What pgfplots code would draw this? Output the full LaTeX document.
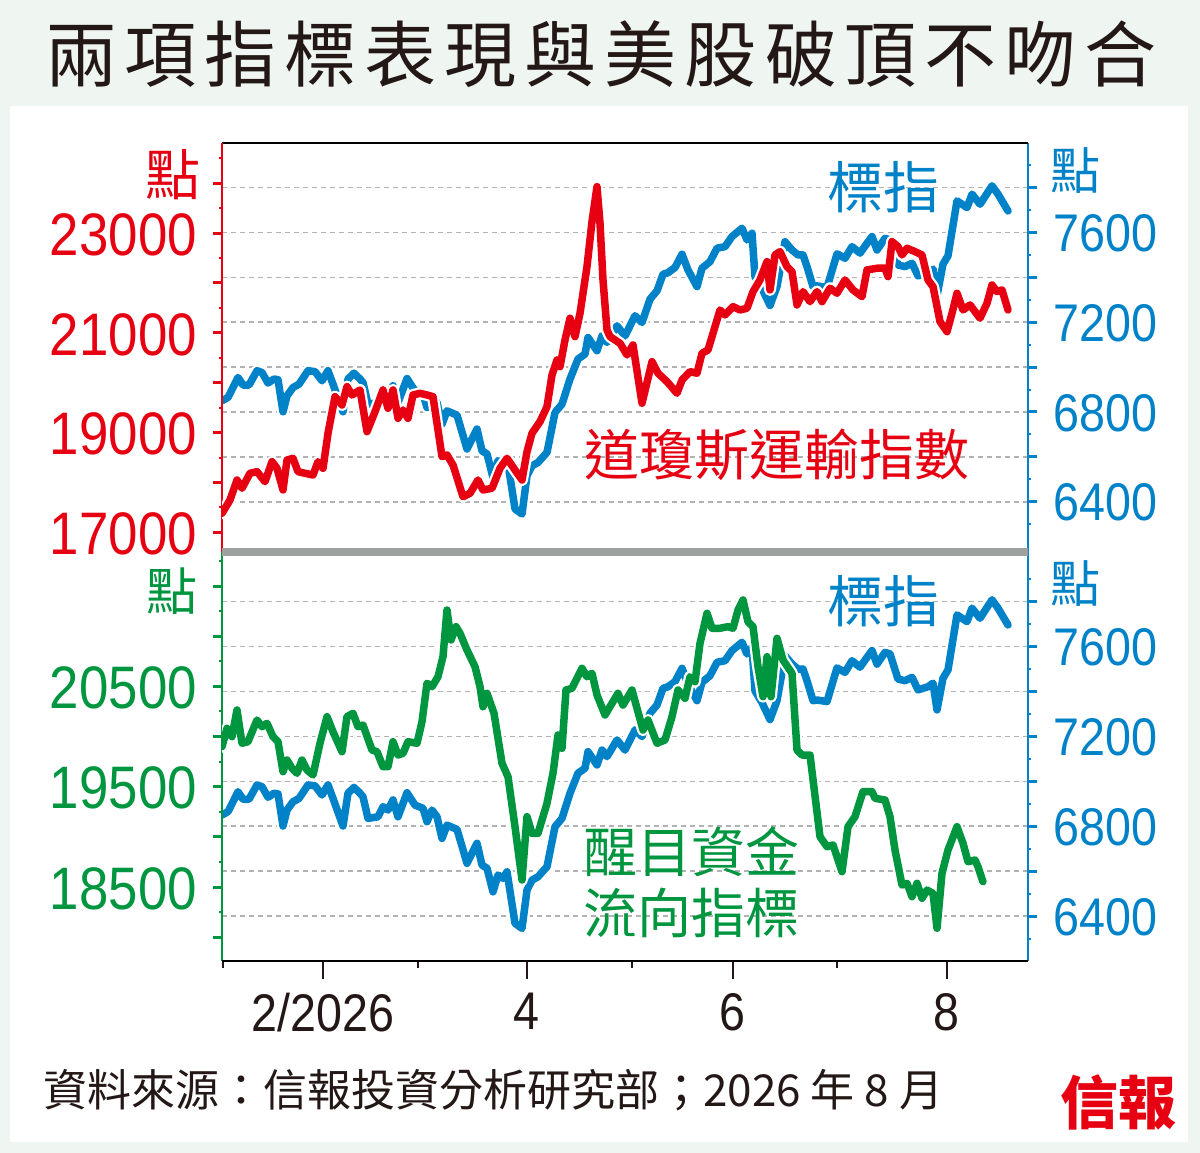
\documentclass[border=0pt]{standalone}
\usepackage{fontspec}
\setmainfont{Liberation Sans}[FakeStretch=0.88]
\newfontfamily\cjk{Noto Sans CJK TC}
\usepackage{pgfplots}
\usepackage{pgfplotstable}
\pgfplotsset{compat=1.18}
\definecolor{cred}{RGB}{230,0,18}
\definecolor{cblue}{RGB}{0,130,200}
\definecolor{cgreen}{RGB}{0,150,64}
\definecolor{bgcol}{RGB}{239,245,240}
\definecolor{ink}{RGB}{35,24,21}
\definecolor{gridgray}{RGB}{178,178,178}
\definecolor{sepgray}{RGB}{159,160,160}

\pgfplotstableread{
x y
222 6850
228 6865
238 6954
243 6920
249 6920
257 6984
262 6976
268 6929
274 6947
278 6944
283 6801
287 6872
293 6909
299 6924
308 6984
315 6980
322 6939
328 6984
333 6924
343 6801
348 6947
354 6973
360 6947
363 6931
368 6835
378 6842
383 6887
388 6872
393 6917
398 6842
407 6949
415 6894
423 6880
427 6820
432 6872
437 6842
442 6746
447 6805
457 6786
467 6635
477 6724
482 6627
487 6613
493 6508
498 6583
503 6568
507 6597
515 6368
522 6345
527 6516
532 6560
538 6575
547 6620
555 6798
562 6835
570 6947
578 7036
585 7058
588 7132
597 7073
602 7139
607 7110
617 7184
625 7139
635 7229
642 7199
650 7303
657 7340
663 7414
668 7421
675 7444
682 7503
688 7433
697 7359
702 7441
710 7470
717 7530
725 7537
732 7582
742 7619
747 7567
752 7597
755 7403
762 7350
770 7275
777 7359
785 7559
792 7522
798 7500
803 7500
807 7448
813 7359
817 7362
827 7355
837 7505
845 7485
852 7537
860 7508
867 7552
872 7582
877 7522
885 7574
890 7567
898 7455
905 7448
912 7463
918 7407
928 7421
933 7437
937 7318
943 7459
948 7496
957 7741
967 7711
972 7771
980 7726
992 7808
998 7771
1008 7696
}\bluetab

\pgfplotstableread{
x y
222 17381
230 17648
237 18049
242 17883
250 18184
257 18216
265 18015
272 18416
277 18284
283 17849
287 18450
293 18484
298 18216
305 18184
313 18149
318 18416
323 18284
328 18986
335 19720
342 19554
347 19921
352 19754
360 19855
367 19018
375 19419
383 19855
388 19487
393 19855
398 19287
403 19453
408 19287
413 19754
420 19788
427 19754
433 19720
442 18517
447 18551
453 18350
463 17714
470 17782
478 18049
483 17849
492 17883
500 18284
507 18484
515 18250
522 18049
527 18617
532 18986
540 19219
547 19520
552 20155
557 20456
560 20322
565 20858
570 21293
575 20924
580 21393
587 22328
592 23231
597 23933
600 23199
603 22061
607 21058
610 20924
620 20791
627 20557
633 20757
642 19588
652 20422
658 20190
667 20021
677 19788
682 20055
690 20222
697 20190
702 20591
708 20657
715 21124
720 21459
725 21359
733 21526
740 21459
747 21493
753 21827
760 22061
767 22428
770 21861
775 22563
780 22629
787 22328
792 22228
797 21560
803 21827
810 21626
817 21827
822 21626
830 21895
837 21794
845 22061
853 21861
862 21726
867 22262
877 22296
885 22296
888 22128
892 22830
898 22729
902 22563
907 22697
915 22629
922 22563
928 22061
933 21927
940 21225
947 21024
952 21393
957 21794
963 21459
970 21560
980 21293
987 21594
992 21961
997 21827
1002 21861
1008 21459
}\redtab

\pgfplotstableread{
x y
222 19899
227 20082
232 19999
237 20265
242 19933
248 19949
257 20165
262 20098
267 20132
273 19999
278 19949
283 19650
287 19766
292 19684
297 19634
302 19766
307 19667
313 19617
320 19933
327 20198
333 20048
342 19849
347 20198
353 20232
358 20098
363 20115
372 19866
377 19849
383 19700
388 19700
393 19949
398 19816
403 19833
408 19949
417 19933
422 20148
427 20531
432 20497
438 20596
443 20796
447 21261
451 20962
456 21095
460 21029
467 20862
475 20696
480 20497
483 20297
487 20431
494 20232
502 19734
508 19600
515 19102
522 18571
527 19202
532 19036
538 19036
547 19335
553 19634
558 20016
562 19883
566 20464
572 20481
582 20680
587 20596
592 20630
597 20414
605 20215
612 20331
618 20431
623 20314
632 20464
637 20282
643 20065
648 20165
657 19933
665 19966
672 20198
678 20464
685 20381
690 20596
695 20547
700 20929
707 21228
712 21079
720 21079
728 21095
733 21079
738 21261
743 21361
748 21144
753 21095
758 20696
763 20397
767 20796
771 20397
777 20979
783 20763
792 20630
797 19866
802 19816
810 19816
820 19002
827 18903
833 18920
842 18654
848 19102
855 19202
863 19451
872 19451
875 19385
885 19368
890 19202
895 18870
902 18521
907 18538
912 18405
917 18538
922 18389
927 18471
933 18438
937 18090
942 18638
948 18870
957 19102
963 18937
968 18753
975 18770
978 18703
983 18554
}\greentab

\pgfplotsset{
  panel/.style={scale only axis, width=806bp, height=409bp, xmin=222, xmax=1028, anchor=south west,
    scaled y ticks=false, scaled x ticks=false},
  halo/.style={white, line width=12bp, line join=round, line cap=round},
  ser/.style={#1, line width=7.5bp, line join=round, line cap=round},
  rightax/.style={
    axis x line=none, axis y line*=right,
    y axis line style={-, cblue, line width=2.2bp},
    ytick={6400,6600,...,7800}, yticklabels={6400,,6800,,7200,,7600,},
    minor ytick={6300,6500,...,7900},
    tick align=outside, major tick length=9bp, minor tick length=3bp,
    major tick style={cblue, line width=3bp}, minor tick style={cblue, line width=2bp},
    ymajorgrids, major grid style={gridgray, line width=1.6bp, dash pattern=on 5bp off 4bp},
    yticklabel style={text=cblue, font=\fontsize{53bp}{53bp}\selectfont, anchor=west, inner sep=0pt, xshift=16bp, yshift=-1bp},
  },
  leftax/.style={
    axis y line*=left,
    y axis line style={-, #1, line width=2.2bp},
    tick align=outside, major tick length=9bp, minor tick length=3bp,
    major tick style={#1, line width=3bp}, minor tick style={#1, line width=2bp},
    yticklabel style={text=#1, font=\fontsize{60bp}{60bp}\selectfont, anchor=east, inner sep=0pt, xshift=-16bp, yshift=-1.5bp},
  },
}

\begin{document}
\begin{tikzpicture}
\useasboundingbox (0,0) rectangle (1200bp,1153bp);
\fill[bgcol] (0,0) rectangle (1200bp,1153bp);
\fill[white] (10bp,11.3bp) rectangle (1188bp,1047bp);
\node[ink, inner sep=0pt, anchor=center] at (601bp,1099bp)
  {\cjk\fontsize{72bp}{72bp}\selectfont 兩\hspace{8bp}項\hspace{8bp}指\hspace{8bp}標\hspace{8bp}表\hspace{8bp}現\hspace{8bp}與\hspace{8bp}美\hspace{8bp}股\hspace{8bp}破\hspace{8bp}頂\hspace{8bp}不\hspace{8bp}吻\hspace{8bp}合};

% ---------- top panel: right (blue) ----------
\begin{axis}[panel, at={(222bp,601bp)}, ymin=6176, ymax=7999, rightax]
\addplot[halo] table {\bluetab};
\addplot[ser=cblue] table {\bluetab};
\end{axis}
% ---------- top panel: left (red) ----------
\begin{axis}[panel, at={(222bp,601bp)}, ymin=16605, ymax=24808, leftax=cred,
  axis x line*=top, x axis line style={-, black, line width=1.8bp}, xtick=\empty,
  ytick={17000,18000,...,24000}, yticklabels={17000,,19000,,21000,,23000,},
  minor ytick={17500,18500,...,24500}]
\addplot[halo] table {\redtab};
\addplot[ser=cred] table {\redtab};
\end{axis}

% ---------- bottom panel: right (blue) ----------
\begin{axis}[panel, at={(222bp,192bp)}, ymin=6200, ymax=8021, rightax]
\addplot[halo] table {\bluetab};
\addplot[ser=cblue] table {\bluetab};
\end{axis}
% ---------- bottom panel: left (green) ----------
\begin{axis}[panel, at={(222bp,192bp)}, ymin=17764, ymax=21839, leftax=cgreen,
  axis x line=none,
  ytick={18000,18500,...,21500}, yticklabels={,18500,,19500,,20500,,},
  minor ytick={18250,18750,...,21750}]
\addplot[halo] table {\greentab};
\addplot[ser=cgreen] table {\greentab};
\end{axis}
% ---------- bottom x axis ----------
\begin{axis}[panel, at={(222bp,192bp)}, ymin=0, ymax=1,
  axis y line=none, axis x line*=bottom,
  x axis line style={-, black, line width=2bp},
  xtick={323.3,526.7,732.7,946.7}, xticklabels={2/2026,4,6,8},
  minor xtick={222.7,417.7,632.3,836.7},
  tick align=outside, major tick length=18bp, minor tick length=7bp,
  major tick style={ink, line width=2.2bp}, minor tick style={ink, line width=2.2bp},
  xticklabel style={text=ink, font=\fontsize{53bp}{53bp}\selectfont, anchor=north, inner sep=0pt, yshift=-14bp}]
\end{axis}

% separator bar
\draw[sepgray, line width=8bp] (222bp,601bp) -- (1028bp,601bp);

% unit labels
\node[cred, inner sep=0pt] at (172.5bp,978bp) {\cjk\fontsize{55bp}{55bp}\selectfont 點};
\node[cgreen, inner sep=0pt] at (171.5bp,562bp) {\cjk\fontsize{51bp}{51bp}\selectfont 點};
\node[cblue, inner sep=0pt] at (1075bp,982bp) {\cjk\fontsize{50bp}{50bp}\selectfont 點};
\node[cblue, inner sep=0pt] at (1075bp,569.5bp) {\cjk\fontsize{50bp}{50bp}\selectfont 點};

% series labels
\node[cblue, inner sep=0pt] at (883bp,966bp) {\cjk\fontsize{56bp}{56bp}\selectfont 標指};
\node[cblue, inner sep=0pt] at (883bp,552bp) {\cjk\fontsize{56bp}{56bp}\selectfont 標指};
\node[cred, inner sep=0pt] at (776.5bp,698bp) {\cjk\fontsize{55bp}{55bp}\selectfont 道瓊斯運輸指數};
\node[cgreen, inner sep=0pt, anchor=west] at (583bp,301bp) {\cjk\fontsize{54bp}{54bp}\selectfont 醒目資金};
\node[cgreen, inner sep=0pt, anchor=west] at (583bp,240bp) {\cjk\fontsize{54bp}{54bp}\selectfont 流向指標};

% footer
\node[ink, inner sep=0pt, anchor=west] at (43bp,63bp) {\cjk\fontsize{44bp}{44bp}\selectfont 資料來源：信報投資分析研究部；2026\hspace{10bp}年\hspace{10bp}8\hspace{10bp}月};
\node[cred, inner sep=0pt] at (1118bp,51bp) {\cjk\bfseries\fontsize{58bp}{58bp}\selectfont 信報};
\end{tikzpicture}
\end{document}
